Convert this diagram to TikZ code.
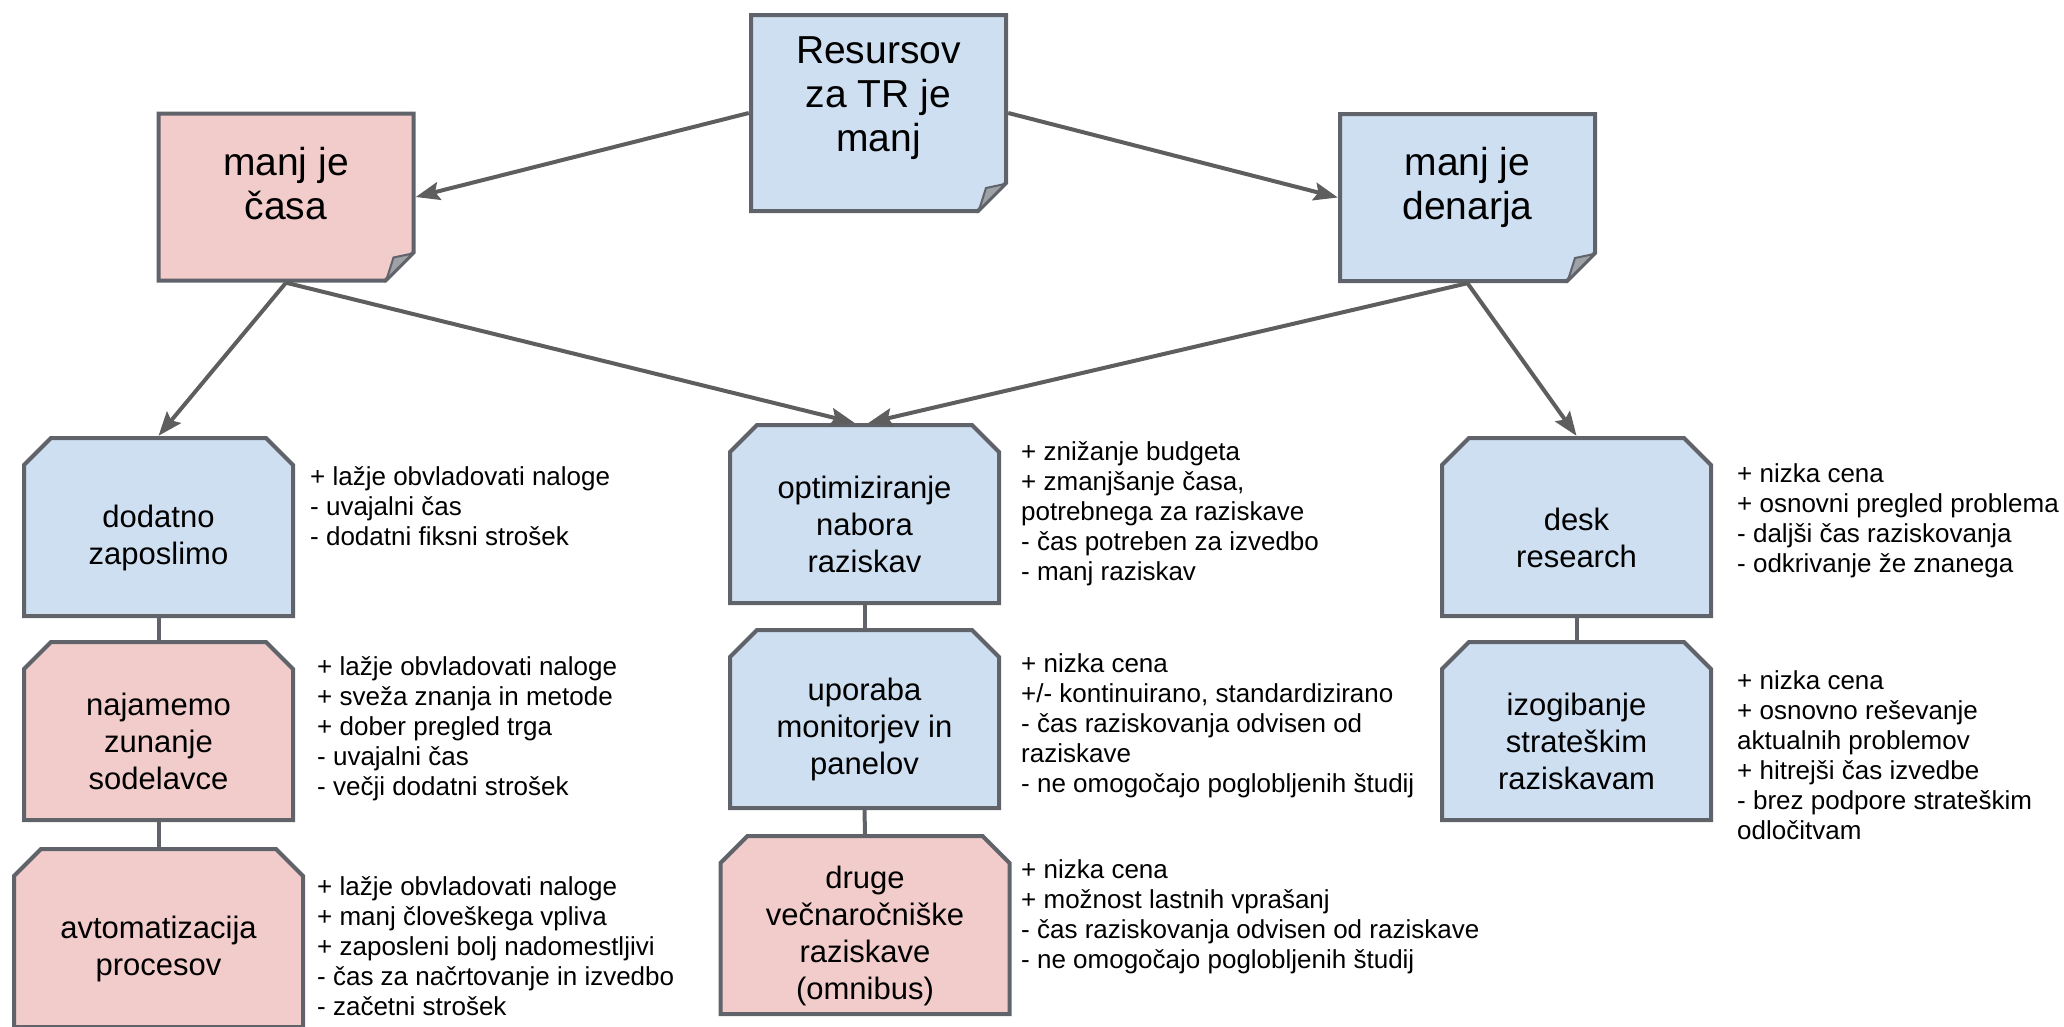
\documentclass[tikz,border=0pt]{standalone}
\usepackage{fontspec}
\setmainfont{Liberation Sans}
\usetikzlibrary{arrows.meta, calc}
\definecolor{bluefill}{HTML}{CEDFF1}
\definecolor{pinkfill}{HTML}{F2CBCB}
\definecolor{edgegray}{HTML}{60646A}
\definecolor{arrowgray}{HTML}{5E5E5E}
\definecolor{foldgray}{HTML}{9EA2A7}
\newcommand{\boxgap}{\rule{0pt}{44pt}}
\newcommand{\notegap}[1]{\rule[-#1]{0pt}{#1}}

\begin{document}
\begin{tikzpicture}[
  x=1pt, y=-1pt,
  >={Stealth[length=24pt, width=18pt, inset=4pt]},
  every node/.style={font=\fontsize{26}{30}\selectfont},
  note/.style={minimum width=259pt, minimum height=171pt, inner sep=0pt, align=center,
               font=\fontsize{39}{44}\selectfont,
               path picture={
                 \path[fill=#1, draw=edgegray, line width=4pt]
                   ($(path picture bounding box.north west)+(2pt,-2pt)$)
                   -- ($(path picture bounding box.north east)+(-2pt,-2pt)$)
                   -- ($(path picture bounding box.south east)+(-2pt,30pt)$)
                   -- ($(path picture bounding box.south east)+(-30pt,2pt)$)
                   -- ($(path picture bounding box.south west)+(2pt,2pt)$) -- cycle;
                 \path[fill=foldgray, draw=edgegray, line width=2pt]
                   ($(path picture bounding box.south east)+(-3pt,29pt)$)
                   -- ($(path picture bounding box.south east)+(-29pt,3pt)$)
                   .. controls ($(path picture bounding box.south east)+(-26pt,14pt)$) .. ($(path picture bounding box.south east)+(-22pt,25pt)$)
                   -- cycle;}},
  octo/.style={minimum width=273pt, minimum height=182pt, inner sep=0pt, align=center,
               font=\fontsize{31}{37}\selectfont,
               path picture={
                 \path[fill=#1, draw=edgegray, line width=4pt]
                   ($(path picture bounding box.south west)+(2pt,2pt)$)
                   -- ($(path picture bounding box.north west)+(2pt,-29pt)$)
                   -- ($(path picture bounding box.north west)+(29pt,-2pt)$)
                   -- ($(path picture bounding box.north east)+(-29pt,-2pt)$)
                   -- ($(path picture bounding box.north east)+(-2pt,-29pt)$)
                   -- ($(path picture bounding box.south east)+(-2pt,2pt)$) -- cycle;}},
  pros/.style={anchor=west, align=left, inner sep=0pt},
  arrow/.style={->, line width=4pt, color=arrowgray},
  link/.style={line width=4pt, color=edgegray}
]
  \useasboundingbox (0,0) rectangle (2064,1026);

  % sticky notes
  \node[note=bluefill, minimum height=200pt] (resursi) at (878.5,113) {Resursov\\za TR je\\manj\notegap{38pt}};
  \node[note=pinkfill] (casa) at (286,197) {manj je\\časa\notegap{28pt}};
  \node[note=bluefill] (denar) at (1467.5,197.5) {manj je\\denarja\notegap{28pt}};

  % left column
  \node[octo=bluefill] (zaposlimo) at (158.5,527) {\boxgap dodatno\\zaposlimo};
  \node[octo=pinkfill] (najamemo) at (158.5,731) {\boxgap najamemo\\zunanje\\sodelavce};
  \node[octo=pinkfill, minimum width=293pt] (avtomat) at (158.5,938) {\boxgap avtomatizacija\\procesov};

  % middle column
  \node[octo=bluefill] (optim) at (864.5,514) {\boxgap optimiziranje\\nabora\\raziskav};
  \node[octo=bluefill] (monitor) at (864.5,719) {\boxgap uporaba\\monitorjev in\\panelov};
  \node[octo=pinkfill, minimum width=293pt] (omnibus) at (865,925) {\boxgap druge\\večnaročniške\\raziskave\\(omnibus)};

  % right column
  \node[octo=bluefill] (desk) at (1576.5,527) {\boxgap desk\\research};
  \node[octo=bluefill] (izogib) at (1576.5,731) {\boxgap izogibanje\\strateškim\\raziskavam};

  % pros and cons
  \node[pros] (zaposlimo-txt) at (310,506) {+ lažje obvladovati naloge\\- uvajalni čas\\- dodatni fiksni strošek};
  \node[pros] (najamemo-txt) at (317,729) {+ lažje obvladovati naloge\\+ sveža znanja in metode\\+ dober pregled trga\\- uvajalni čas\\- večji dodatni strošek};
  \node[pros] (avtomat-txt) at (317,946) {+ lažje obvladovati naloge\\+ manj človeškega vpliva\\+ zaposleni bolj nadomestljivi\\- čas za načrtovanje in izvedbo\\- začetni strošek};
  \node[pros] (optim-txt) at (1021,514) {+ znižanje budgeta\\+ zmanjšanje časa,\\potrebnega za raziskave\\- čas potreben za izvedbo\\- manj raziskav};
  \node[pros] (monitor-txt) at (1021,726) {+ nizka cena\\+/- kontinuirano, standardizirano\\- čas raziskovanja odvisen od\\raziskave\\- ne omogočajo poglobljenih študij};
  \node[pros] (omnibus-txt) at (1021,917) {+ nizka cena\\+ možnost lastnih vprašanj\\- čas raziskovanja odvisen od raziskave\\- ne omogočajo poglobljenih študij};
  \node[pros] (desk-txt) at (1737,521) {+ nizka cena\\+ osnovni pregled problema\\- daljši čas raziskovanja\\- odkrivanje že znanega};
  \node[pros] (izogib-txt) at (1737,755) {+ nizka cena\\+ osnovno reševanje\\aktualnih problemov\\+ hitrejši čas izvedbe\\- brez podpore strateškim\\odločitvam};

  \draw[arrow] (resursi.west) -- (casa.east);
  \draw[arrow] (resursi.east) -- (denar.west);
  \draw[arrow] (casa.south) -- (zaposlimo.north);
  \draw[arrow] (casa.south) -- ([xshift=-10pt]optim.north);
  \draw[arrow] (denar.south) -- ([xshift=4pt]optim.north);
  \draw[arrow] (denar.south) -- (desk.north);

  \draw[link] (zaposlimo.south) -- (najamemo.north);
  \draw[link] (najamemo.south) -- (avtomat.north);
  \draw[link] (optim.south) -- (monitor.north);
  \draw[link] (monitor.south) -- (omnibus.north);
  \draw[link] (desk.south) -- (izogib.north);
\end{tikzpicture}
\end{document}
